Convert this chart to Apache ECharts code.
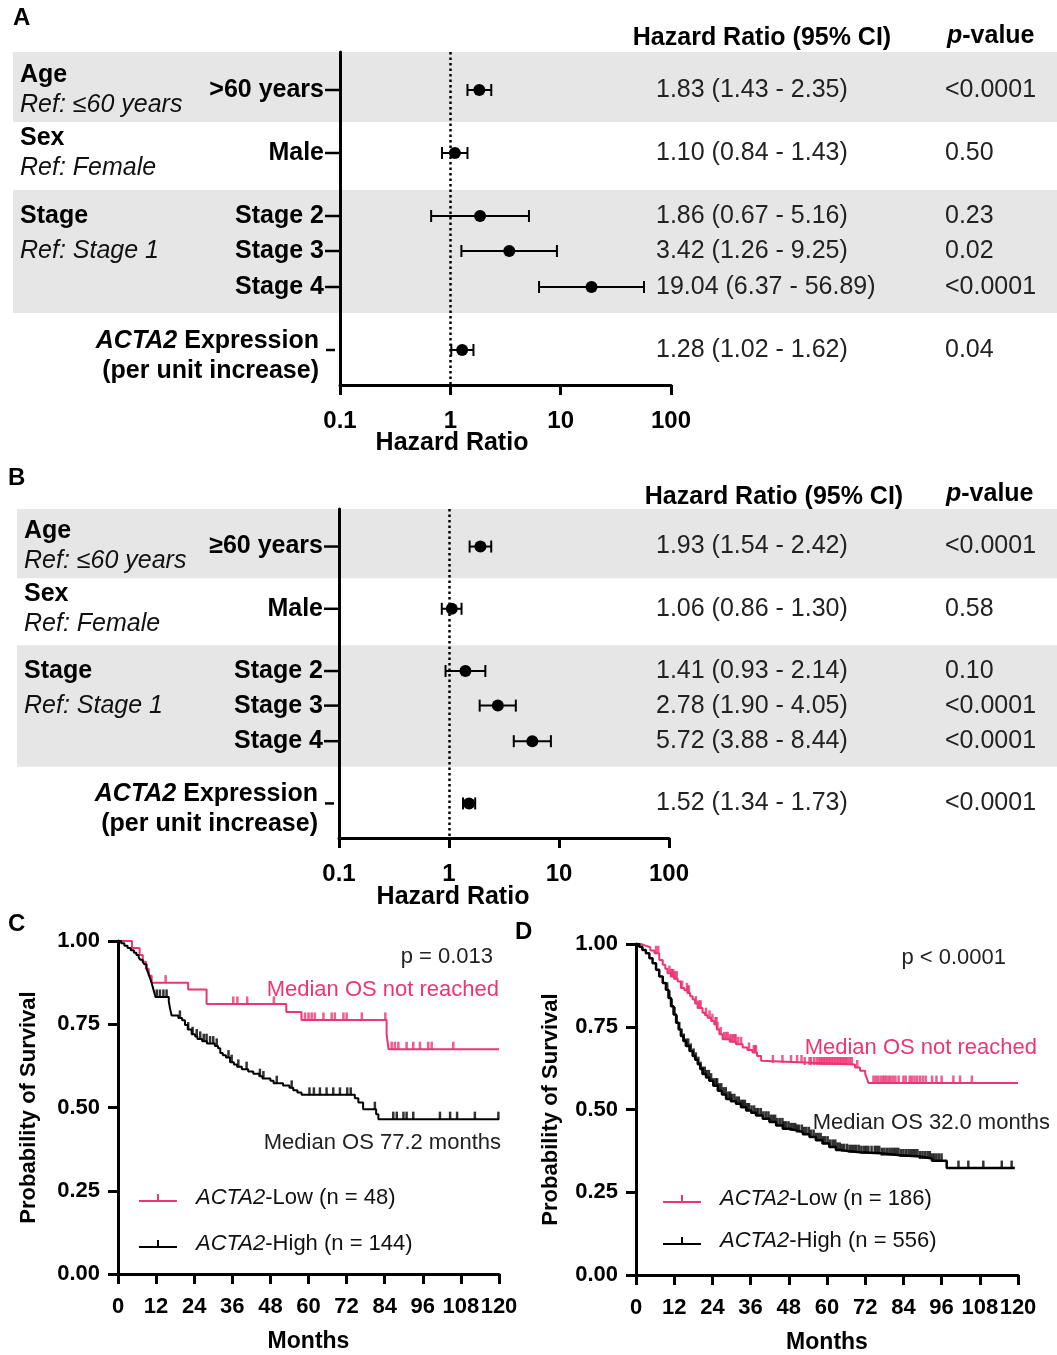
<!DOCTYPE html>
<html><head><meta charset="utf-8">
<script src="https://cdn.jsdelivr.net/npm/echarts@6/dist/echarts.min.js"></script>
<style>html,body{margin:0;padding:0;background:#fff}#c{width:1057px;height:1355px}</style>
</head><body><div id="c"></div>
<script>
const FF = '"Liberation Sans", Arial, Helvetica, sans-serif';
const PINK = '#ec3572';

// ---------- Panel A (forest) ----------
const labelsA = ['>60 years', 'Male', 'Stage 2', 'Stage 3', 'Stage 4', 'ACTA2'];
const hrA = [1.83, 1.10, 1.86, 3.42, 19.04, 1.28];
const loA = [1.43, 0.84, 0.67, 1.26, 6.37, 1.02];
const hiA = [2.35, 1.43, 5.16, 9.25, 56.89, 1.62];
const pA  = ['<0.0001', '0.50', '0.23', '0.02', '<0.0001', '0.04'];

// ---------- Panel B (forest) ----------
const labelsB = ['\u226560 years', 'Male', 'Stage 2', 'Stage 3', 'Stage 4', 'ACTA2'];
const hrB = [1.93, 1.06, 1.41, 2.78, 5.72, 1.52];
const loB = [1.54, 0.86, 0.93, 1.90, 3.88, 1.34];
const hiB = [2.42, 1.30, 2.14, 4.05, 8.44, 1.73];
const pB  = ['<0.0001', '0.58', '0.10', '<0.0001', '<0.0001', '<0.0001'];

const groups = [
  {title: 'Age', ref: 'Ref: \u226460 years', rows: [0]},
  {title: 'Sex', ref: 'Ref: Female', rows: [1]},
  {title: 'Stage', ref: 'Ref: Stage 1', rows: [2, 3]}
];

// ---------- Panel C (KM, n = 192) ----------
const cLow = [[0,1],[4.4,0.979],[6.8,0.958],[7.8,0.938],[8.8,0.917],[9.7,0.896],[10.6,0.875],[22.1,0.854],[27.9,0.811],[53.0,0.787],[57.8,0.763],[84.6,0.72],[85.2,0.675],[120,0.675]];
const cLowCens = [15.0,36.3,37.6,40.7,49.1,58.9,60.0,61.0,62.0,64.7,67.3,68.3,71.0,72.0,76.8,84.2,86.2,87.2,88.3,90.9,93.0,95.1,97.7,98.8,105.6];
const cHigh = [[0,1],[1.0,0.993],[2.0,0.986],[3.0,0.979],[4.0,0.972],[5.0,0.965],[5.8,0.958],[6.5,0.951],[7.0,0.944],[7.8,0.937],[8.3,0.93],[9.0,0.916],[9.6,0.902],[10.1,0.888],[10.6,0.874],[11.0,0.86],[11.4,0.846],[11.8,0.832],[16.0,0.818],[16.4,0.797],[16.9,0.776],[19.0,0.769],[20.2,0.762],[21.1,0.748],[22.0,0.734],[23.2,0.72],[24.3,0.713],[25.0,0.706],[26.5,0.699],[28.0,0.692],[30.5,0.685],[31.5,0.678],[32.2,0.664],[33.0,0.657],[34.0,0.650],[35.3,0.636],[36.5,0.629],[37.5,0.622],[39.0,0.615],[41.0,0.608],[42.6,0.601],[44.5,0.594],[45.5,0.587],[48.0,0.580],[49.0,0.573],[52.0,0.566],[54.0,0.559],[55.2,0.552],[56.5,0.545],[57.8,0.538],[74.6,0.528],[75.7,0.515],[77.2,0.495],[81.3,0.48],[82.0,0.465],[120,0.465]];
const cHighCens = [12.2,13.2,14.3,15.3,19.5,22.1,23.5,24.8,25.9,27.0,27.9,29.0,30.0,31.1,34.8,35.8,37.9,40.5,44.7,45.8,50.0,54.7,60.3,61.7,63.6,65.7,67.8,69.9,72.2,73.3,80.9,86.7,87.8,89.9,90.9,93.0,101.4,104.6,106.8,112.4,119.8];

// ---------- Panel D (KM, n = 742) ----------
const dLow = [[0,1],[1.5,0.995],[3.0,0.99],[4.5,0.98],[5.8,0.972],[7.3,0.952],[8.4,0.937],[9.2,0.925],[9.9,0.912],[11.0,0.902],[12.0,0.895],[13.1,0.887],[14.1,0.867],[15.2,0.86],[16.2,0.852],[17.0,0.842],[17.8,0.832],[18.6,0.82],[19.4,0.807],[20.9,0.792],[21.7,0.785],[22.5,0.777],[23.6,0.767],[24.6,0.757],[25.4,0.742],[26.2,0.727],[27.2,0.712],[29.5,0.705],[31.4,0.697],[33.5,0.687],[35.0,0.68],[36.6,0.672],[38.0,0.662],[39.3,0.647],[39.8,0.642],[52.9,0.636],[68.8,0.627],[70.4,0.617],[72.0,0.607],[72.5,0.595],[73.0,0.58],[120,0.58]];
const dLowCens = [6.3,7.0,10.5,11.0,11.3,11.7,12.0,12.4,12.8,14.5,16.0,16.3,16.6,18.8,19.5,20.0,20.3,22.0,23.1,24.0,25.0,25.3,25.6,26.6,27.7,28.3,28.8,29.5,30.0,30.5,31.0,31.3,32.1,33.0,35.5,37.0,37.4,37.7,43.0,46.0,48.7,50.6,52.0,53.0,54.5,55.0,56.0,56.8,57.5,58.0,58.5,59.0,59.5,60.0,60.5,61.0,61.5,62.0,62.5,63.0,63.5,64.0,64.5,65.0,65.5,66.0,66.5,67.2,67.8,69.5,74.6,75.3,76.0,76.8,77.5,78.1,78.7,79.4,80.0,80.8,81.5,82.5,84.0,84.7,86.0,86.7,87.5,88.3,89.2,90.1,91.0,93.0,94.4,96.0,99.7,101.8,105.5];
const dHigh = [[0,1],[1.0,0.992],[2.0,0.982],[3.1,0.972],[4.2,0.957],[5.2,0.942],[6.3,0.922],[7.3,0.902],[8.4,0.882],[9.4,0.862],[10.2,0.837],[11.0,0.812],[11.8,0.787],[12.6,0.762],[13.4,0.742],[14.1,0.722],[14.9,0.707],[15.7,0.692],[16.8,0.677],[17.8,0.662],[18.6,0.65],[19.4,0.637],[20.2,0.622],[20.9,0.607],[22.0,0.597],[23.0,0.587],[24.3,0.572],[25.7,0.557],[27.0,0.545],[28.3,0.532],[29.8,0.525],[31.4,0.517],[33.0,0.507],[34.6,0.497],[36.2,0.49],[37.7,0.482],[39.8,0.472],[41.9,0.462],[44.0,0.452],[46.1,0.442],[48.2,0.437],[50.3,0.432],[52.4,0.425],[54.5,0.417],[56.5,0.407],[58.6,0.397],[60.7,0.387],[62.8,0.378],[64.1,0.374],[67.0,0.371],[70.4,0.368],[76.7,0.362],[83.0,0.358],[89.2,0.352],[93.0,0.345],[97.6,0.323],[119,0.323]];
const dHighCens = [9.8,10.5,11.2,12.1,12.8,13.6,14.3,15.0,15.7,16.4,17.2,18.1,18.8,19.6,20.3,21.0,21.6,22.2,22.9,23.6,24.3,25.0,25.5,26.1,26.8,27.5,28.2,29.0,29.6,30.1,30.9,31.6,32.3,33.0,33.6,34.2,34.9,35.5,36.3,37.1,37.8,38.4,39.2,40.0,40.8,41.6,42.3,43.0,43.7,44.4,45.2,46.0,46.5,47.1,47.9,48.6,49.3,50.0,50.6,51.2,52.1,52.8,53.5,54.3,55.0,55.8,56.6,57.3,58.0,58.7,59.4,60.2,61.0,61.8,62.6,63.3,64.0,64.7,65.4,66.3,67.1,67.8,68.5,69.2,70.0,70.8,71.6,72.3,73.0,74.0,75.0,75.7,76.4,77.2,78.0,78.8,79.6,80.3,81.0,81.7,82.4,83.2,84.0,84.8,85.6,86.3,87.0,87.7,88.4,89.2,90.0,90.8,91.6,92.3,93.0,93.7,94.4,95.2,96.0,101.3,104.4,109.1,114.9,118.0];

// ---------- layout helpers ----------
const rowPos = [38, 101, 164, 199, 235, 298];       // row slots on the forest y axis (0..333)
const bands = [[0, 70], [138, 261]];                  // grey band slots

function sAt(curve, t) {
  let s = curve[0][1];
  for (const p of curve) { if (p[0] <= t) s = p[1]; else break; }
  return s;
}
function txt(x, y, text, font, align, fill, extra) {
  const s = Object.assign({x: x, y: y, text: text, font: font, fill: fill || '#000',
    textAlign: align, align: align, textVerticalAlign: 'middle', verticalAlign: 'middle'}, extra || {});
  return {type: 'text', style: s};
}

function forestRender(P) {
  return function (params, api) {
    const i = api.value(4);
    const ry = api.value(1);
    const c = api.coord([api.value(0), ry]);
    const y = c[1], xc = c[0];
    const xl = api.coord([api.value(2), ry])[0];
    const xh = api.coord([api.value(3), ry])[0];
    const x0 = api.coord([0.1, ry])[0];
    const st = {stroke: '#000', lineWidth: 2};
    const ch = [];
    ch.push({type: 'line', shape: {x1: xl, y1: y, x2: xh, y2: y}, style: st});
    ch.push({type: 'line', shape: {x1: xl, y1: y - 6, x2: xl, y2: y + 6}, style: st});
    ch.push({type: 'line', shape: {x1: xh, y1: y - 6, x2: xh, y2: y + 6}, style: st});
    ch.push({type: 'circle', shape: {cx: xc, cy: y, r: 6}, style: {fill: '#000'}});
    const lab = P.labels[i];
    if (lab === 'ACTA2') {
      ch.push({type: 'line', shape: {x1: x0 - 14, y1: y, x2: x0 - 5, y2: y}, style: {stroke: '#000', lineWidth: 2.5}});
      ch.push({type: 'text', style: {
        x: x0 - 21, y: y + 6,
        text: '{bi|ACTA2}{b| Expression}\n{b|(per unit increase)}',
        textAlign: 'right', align: 'right', textVerticalAlign: 'middle', verticalAlign: 'middle',
        fill: '#000', font: 'bold 25px ' + FF,
        rich: {
          bi: {fontStyle: 'italic', fontWeight: 'bold', fontSize: 25, fontFamily: FF, lineHeight: 30, fill: '#000'},
          b: {fontWeight: 'bold', fontSize: 25, fontFamily: FF, lineHeight: 30, fill: '#000'}
        }
      }});
    } else {
      ch.push({type: 'line', shape: {x1: x0 - 15, y1: y, x2: x0, y2: y}, style: {stroke: '#000', lineWidth: 2.5}});
      ch.push(txt(x0 - 16, y, lab, 'bold 25px ' + FF, 'right', '#000'));
    }
    const hrStr = P.hr[i].toFixed(2) + ' (' + P.lo[i].toFixed(2) + ' - ' + P.hi[i].toFixed(2) + ')';
    ch.push(txt(P.hrX, y, hrStr, '25px ' + FF, 'left', '#222'));
    ch.push(txt(P.pX, y, P.pv[i], '25px ' + FF, 'left', '#222'));
    for (const g of groups) {
      if (g.rows[0] === i) {
        let ty, ry2;
        if (g.rows.length === 1) { ty = y - 15; ry2 = y + 15; }
        else { ty = y; ry2 = api.coord([1, rowPos[g.rows[1]]])[1]; }
        ch.push(txt(P.groupX, ty, g.title, 'bold 25px ' + FF, 'left', '#000'));
        ch.push(txt(P.groupX, ry2, g.ref, 'italic 25px ' + FF, 'left', '#111'));
      }
    }
    return {type: 'group', children: ch};
  };
}
function bandRender(bandLeft) {
  return function (params, api) {
    const y0 = api.coord([1, api.value(1)])[1];
    const y1 = api.coord([1, api.value(2)])[1];
    return {type: 'rect', shape: {x: bandLeft, y: y0, width: 1057 - bandLeft, height: y1 - y0}, style: {fill: '#e6e6e6'}};
  };
}

const forestX = (gi) => ({
  type: 'log', logBase: 10, min: 0.1, max: 100, gridIndex: gi, z: 3,
  axisLine: {onZero: false, lineStyle: {color: '#000', width: 3}},
  axisTick: {length: 10, lineStyle: {color: '#000', width: 3}},
  axisLabel: {color: '#000', fontFamily: FF, fontWeight: 'bold', fontSize: 24, margin: 24,
    formatter: v => (v < 1 ? v.toFixed(1) : String(Math.round(v)))},
  splitLine: {show: false}, minorTick: {show: false}
});
const forestY = (gi) => ({
  type: 'value', min: 0, max: 333, inverse: true, gridIndex: gi, z: 3,
  axisLine: {show: true, onZero: false, lineStyle: {color: '#000', width: 3}},
  axisTick: {show: false}, axisLabel: {show: false}, splitLine: {show: false}
});
const kmX = (gi) => ({
  type: 'value', min: 0, max: 120, interval: 12, gridIndex: gi,
  name: 'Months', nameLocation: 'middle', nameGap: 56,
  nameTextStyle: {color: '#000', fontFamily: FF, fontWeight: 'bold', fontSize: 23},
  axisLine: {onZero: false, lineStyle: {color: '#000', width: 3}},
  axisTick: {length: 10, lineStyle: {color: '#000', width: 3}},
  axisLabel: {color: '#000', fontFamily: FF, fontWeight: 'bold', fontSize: 22, margin: 22},
  splitLine: {show: false}
});
const kmY = (gi, gap) => ({
  type: 'value', min: 0, max: 1, interval: 0.25, gridIndex: gi,
  name: 'Probability of Survival', nameLocation: 'middle', nameGap: gap,
  nameTextStyle: {color: '#000', fontFamily: FF, fontWeight: 'bold', fontSize: 22},
  axisLine: {onZero: false, lineStyle: {color: '#000', width: 3}},
  axisTick: {length: 10, lineStyle: {color: '#000', width: 3}},
  axisLabel: {color: '#000', fontFamily: FF, fontWeight: 'bold', fontSize: 22, margin: 18,
    formatter: v => v.toFixed(2)},
  splitLine: {show: false}
});

function forestSeries(gi, P, bandLeft) {
  return [
    {type: 'custom', xAxisIndex: gi, yAxisIndex: gi, z: 0, silent: true,
     renderItem: bandRender(bandLeft), encode: {x: 0, y: [1, 2]},
     data: bands.map(b => [1, b[0], b[1]])},
    {type: 'custom', xAxisIndex: gi, yAxisIndex: gi, z: 5, silent: true,
     renderItem: forestRender(P), encode: {x: [0, 2, 3], y: 1},
     data: P.hr.map((v, i) => [v, rowPos[i], P.lo[i], P.hi[i], i]),
     markLine: {silent: true, symbol: 'none', animation: false,
       label: {show: false},
       lineStyle: {type: [2.5, 3], width: 2.5, color: '#000'},
       data: [{xAxis: 1}]}}
  ];
}
function kmSeries(gi, name, curve, cens, color, lw) {
  return [
    {type: 'line', name: name, xAxisIndex: gi, yAxisIndex: gi, step: 'end', showSymbol: false,
     symbol: 'none', silent: true, data: curve, lineStyle: {color: color, width: lw}, itemStyle: {color: color}, z: 4},
    {type: 'scatter', name: name + ' censored', xAxisIndex: gi, yAxisIndex: gi, silent: true,
     symbol: 'rect', symbolSize: [2.5, 8], symbolOffset: [0, -3.5], itemStyle: {color: color}, z: 4,
     data: cens.map(t => [t, sAt(curve, t)])}
  ];
}

const legendRich = {
  pad: {width: 14, fontSize: 22, lineHeight: 26},
  i: {fontStyle: 'italic', fontSize: 22, fontFamily: FF, color: '#111', lineHeight: 26},
  r: {fontSize: 22, fontFamily: FF, color: '#111', lineHeight: 26}
};
const legendFmt = name => '{pad| }{i|ACTA2}{r|' + name.slice(5) + '}';
const legendIcon = 'path://M0,6h38v2h-38z M18,0h2v7h-2z';
function legendAt(left, top, gap, names) {
  return {left: left, top: top, orient: 'vertical', itemWidth: 38, itemHeight: 8, itemGap: gap,
    icon: legendIcon, selectedMode: false, data: names, formatter: legendFmt,
    itemStyle: {borderWidth: 0},
    textStyle: {fontSize: 22, fontFamily: FF, color: '#111', lineHeight: 26, rich: legendRich}};
}

const PA = {labels: labelsA, hr: hrA, lo: loA, hi: hiA, pv: pA, groupX: 20, hrX: 656, pX: 945};
const PB = {labels: labelsB, hr: hrB, lo: loB, hi: hiB, pv: pB, groupX: 24, hrX: 656, pX: 945};

const G = (x, y, t, font, align, fill, extra) => ({type: 'text', silent: true, z: 10,
  style: Object.assign({x: x, y: y, text: t, font: font, fill: fill || '#000',
    textAlign: align, align: align, textVerticalAlign: 'middle', verticalAlign: 'middle'}, extra || {})});
const pvalRich = {
  rich: {
    p: {fontStyle: 'italic', fontWeight: 'bold', fontSize: 25, fontFamily: FF, fill: '#000'},
    v: {fontWeight: 'bold', fontSize: 25, fontFamily: FF, fill: '#000'}
  }
};

const option = {
  animation: false,
  backgroundColor: '#fff',
  grid: [
    {left: 340, top: 52, width: 331, height: 333},
    {left: 339, top: 509, width: 330, height: 329},
    {left: 118, top: 941, width: 381, height: 333},
    {left: 636, top: 944, width: 382, height: 333}
  ],
  xAxis: [forestX(0), forestX(1), kmX(2), kmX(3)],
  yAxis: [forestY(0), forestY(1), kmY(2, 78), kmY(3, 74)],
  legend: [
    legendAt(134, 1180, 20, ['ACTA2-Low (n = 48)', 'ACTA2-High (n = 144)']),
    legendAt(658, 1181, 16, ['ACTA2-Low (n = 186)', 'ACTA2-High (n = 556)'])
  ],
  graphic: [
    G(13, 18, 'A', 'bold 24px ' + FF, 'left'),
    G(8, 478, 'B', 'bold 24px ' + FF, 'left'),
    G(8, 924, 'C', 'bold 24px ' + FF, 'left'),
    G(515, 932, 'D', 'bold 24px ' + FF, 'left'),
    G(762, 38, 'Hazard Ratio (95% CI)', 'bold 25px ' + FF, 'center'),
    G(947, 36, '{p|p}{v|-value}', 'bold 25px ' + FF, 'left', '#000', pvalRich),
    G(452, 443, 'Hazard Ratio', 'bold 25px ' + FF, 'center'),
    G(774, 497, 'Hazard Ratio (95% CI)', 'bold 25px ' + FF, 'center'),
    G(946, 494, '{p|p}{v|-value}', 'bold 25px ' + FF, 'left', '#000', pvalRich),
    G(453, 897, 'Hazard Ratio', 'bold 25px ' + FF, 'center'),
    G(493, 957, 'p = 0.013', '22px ' + FF, 'right', '#222'),
    G(499, 990, 'Median OS not reached', '22px ' + FF, 'right', PINK),
    G(501, 1143, 'Median OS 77.2 months', '22px ' + FF, 'right', '#222'),
    G(1006, 958, 'p < 0.0001', '22px ' + FF, 'right', '#222'),
    G(1037, 1048, 'Median OS not reached', '22px ' + FF, 'right', PINK),
    G(1050, 1123, 'Median OS 32.0 months', '22px ' + FF, 'right', '#222')
  ],
  series: [].concat(
    forestSeries(0, PA, 13),
    forestSeries(1, PB, 17),
    kmSeries(2, 'ACTA2-Low (n = 48)', cLow, cLowCens, PINK, 2),
    kmSeries(2, 'ACTA2-High (n = 144)', cHigh, cHighCens, '#000', 2),
    kmSeries(3, 'ACTA2-Low (n = 186)', dLow, dLowCens, PINK, 2),
    kmSeries(3, 'ACTA2-High (n = 556)', dHigh, dHighCens, '#000', 2.5)
  )
};

const chart = echarts.init(document.getElementById('c'), null, {renderer: 'canvas'});
chart.setOption(option);
</script>
</body></html>
